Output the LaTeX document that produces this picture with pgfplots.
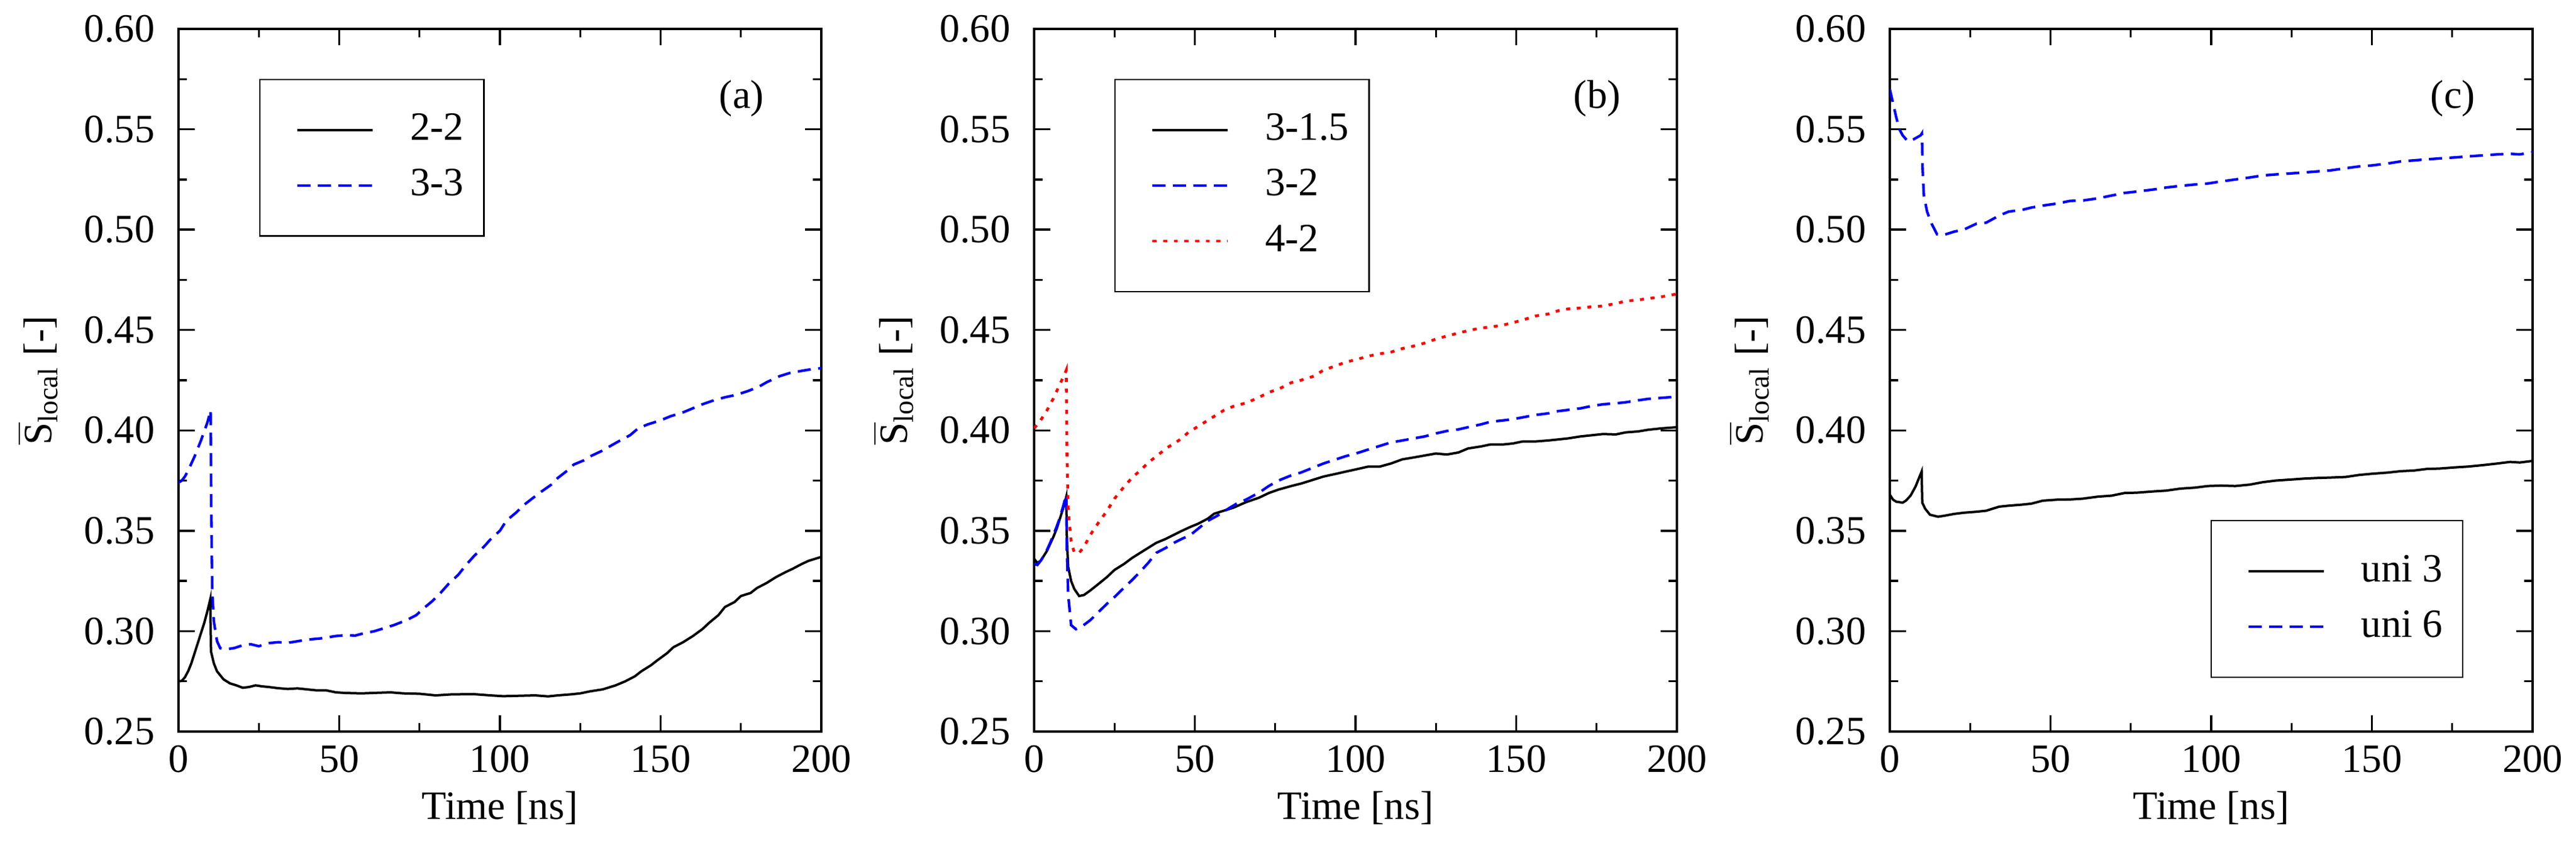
\documentclass[border=0pt]{standalone}
\usepackage{amsmath}
\usepackage{fontspec}
\setmainfont{Liberation Serif}
\usepackage{pgfplots}
\pgfplotsset{compat=1.18}

\pgfplotsset{
  panel/.style={
    scale only axis, width=159.9pt, height=174.9pt,
    anchor=south west,
    xmin=0, xmax=200, ymin=0.25, ymax=0.60,
    xtick={0,50,100,150,200}, minor x tick num=1,
    ytick={0.25,0.30,0.35,0.40,0.45,0.50,0.55,0.60}, minor y tick num=1,
    tick align=inside,
    major tick length=4pt, minor tick length=2.1pt,
    axis line style={line width=0.5pt},
    every tick/.style={black, line width=0.5pt},
    /pgf/number format/assume math mode=true,
    yticklabel style={xshift=-2.4pt, /pgf/number format/fixed, /pgf/number format/fixed zerofill, /pgf/number format/precision=2},
    font=\fontsize{10}{12}\selectfont,
    xlabel={Time [ns]},
    xlabel style={at={(axis description cs:0.5,-0.1244)}, anchor=base},
    ylabel={$\overline{\text{S}}_{\text{local}}$ [-]},
    ylabel style={at={(axis description cs:-0.2195,0.5)}, anchor=center},
    legend cell align=left,
    legend image code/.code={\path (-4pt,0pt); \draw[##1] (0pt,0pt) -- (18.7pt,0pt);},
    legend style={draw=black, line width=0.35pt, inner xsep=5pt, inner ysep=8.5pt,
      nodes={inner sep=0pt}, row sep=5.7pt, column sep=9pt,
      font=\fontsize{10}{12}\selectfont},
  },
  sblack/.style={black, line width=0.6pt},
  sblue/.style={blue, line width=0.65pt, dash pattern=on 3.25pt off 1.85pt},
  sred/.style={red, line width=0.7pt, dash pattern=on 1pt off 1.65pt},
}

\begin{document}
\begin{tikzpicture}[font=\fontsize{10}{12}\selectfont]

% (a)
\begin{axis}[panel, at={(44.4pt,27.6pt)},
  legend style={at={(0.1257,0.929)}, anchor=north west}]
\addplot[sblack] coordinates {
(0,0.275)(1,0.2752)(2,0.277)(3,0.280)(4,0.284)(5,0.289)(6,0.294)(7,0.299)(8,0.304)(9,0.310)(9.9,0.316)(10.1,0.290)(11,0.284)(12,0.280)(13,0.278)(14,0.276)(16,0.274)(18,0.273)(20,0.2718)(22,0.2722)(24,0.273)(26,0.2725)(28,0.2722)(31,0.2716)(34,0.2712)(37,0.2715)(40,0.271)(43,0.2705)(46,0.2705)(49,0.2695)(52,0.2692)(57,0.269)(62,0.2693)(66,0.2695)(70,0.269)(75,0.2688)(80,0.268)(85,0.2685)(92,0.2686)(97,0.268)(101,0.2676)(106,0.2678)(111,0.268)(115,0.2675)(118,0.268)(122,0.2685)(125,0.269)(128,0.270)(132,0.271)(136,0.273)(139,0.275)(142,0.2775)(144,0.280)(147,0.283)(149,0.2855)(152,0.289)(154,0.292)(157,0.2945)(160,0.2975)(163,0.301)(165,0.304)(168,0.308)(170,0.312)(173,0.3145)(175,0.3175)(178,0.319)(180,0.3215)(183,0.324)(186,0.327)(189,0.3295)(191,0.331)(194,0.3335)(196,0.335)(198,0.336)(200,0.337)
};
\addlegendentry{2-2}
\addplot[sblue] coordinates {
(0,0.374)(1,0.375)(2,0.377)(3,0.380)(4,0.3835)(5,0.387)(6,0.391)(7,0.395)(8,0.3995)(9,0.404)(10,0.410)(10.2,0.36)(10.5,0.32)(11,0.305)(12,0.295)(13,0.2915)(15,0.291)(17.4,0.2916)(20,0.293)(22.5,0.2935)(25,0.2925)(27.8,0.294)(31,0.2945)(34,0.2942)(36.4,0.2948)(39,0.2955)(41.6,0.296)(45,0.2965)(48.6,0.2975)(52,0.298)(55,0.2978)(57.3,0.2988)(61,0.300)(64,0.3015)(67,0.303)(71,0.3055)(74,0.308)(76,0.311)(79,0.315)(81.5,0.319)(84,0.3235)(87,0.328)(89.5,0.333)(92,0.3375)(95,0.342)(97,0.3456)(100,0.350)(102,0.355)(105,0.359)(107.6,0.363)(110,0.366)(113,0.3696)(116,0.373)(118,0.3763)(121,0.380)(123,0.383)(126,0.385)(128,0.387)(132,0.390)(135,0.3928)(138,0.3955)(140.5,0.3976)(143,0.401)(146,0.403)(150,0.405)(153,0.407)(157,0.409)(160,0.411)(163,0.413)(166.6,0.415)(170,0.4165)(173.5,0.4177)(177,0.4195)(180.4,0.4216)(183,0.424)(187,0.427)(190,0.4285)(194,0.4297)(197,0.4305)(200,0.431)
};
\addlegendentry{3-3}
\node at (rel axis cs:0.876,0.901) {(a)};
\end{axis}

% (b)
\begin{axis}[panel, at={(257.25pt,27.6pt)},
  legend style={at={(0.1247,0.929)}, anchor=north west}]
\addplot[sblack] coordinates {
(0,0.336)(1,0.334)(2,0.335)(3,0.3375)(4,0.340)(5,0.3435)(6,0.347)(7,0.351)(8,0.356)(9,0.361)(10,0.367)(10.2,0.345)(10.6,0.332)(11.5,0.325)(12.5,0.321)(14,0.3175)(15.5,0.318)(17.5,0.3203)(20,0.3235)(22.7,0.327)(25,0.3305)(28,0.3335)(30.5,0.3365)(33,0.339)(35.5,0.3415)(38,0.344)(41,0.346)(43.5,0.348)(46,0.350)(48.7,0.352)(51,0.3535)(54,0.356)(56,0.3585)(59,0.360)(62,0.3615)(66,0.3643)(70,0.3665)(73,0.3688)(76,0.3705)(80,0.3723)(83,0.3735)(87,0.3755)(90,0.377)(94,0.3784)(97,0.3795)(100.7,0.3808)(104,0.382)(107.6,0.382)(111,0.3835)(114.6,0.3856)(118,0.3865)(121.5,0.3875)(125,0.3885)(128.4,0.388)(132,0.389)(135,0.391)(139,0.392)(142,0.393)(146,0.393)(149,0.3935)(152,0.3945)(156,0.3945)(160,0.395)(163,0.3955)(166,0.396)(170,0.397)(173,0.3975)(177,0.3982)(181,0.398)(184,0.399)(188,0.3995)(191,0.4003)(195,0.401)(200,0.4016)
};
\addlegendentry{3-1.5}
\addplot[sblue] coordinates {
(0,0.3335)(1,0.333)(2,0.335)(3,0.3375)(4,0.3405)(5,0.344)(6,0.348)(7,0.352)(8,0.3565)(9,0.362)(10,0.368)(10.2,0.34)(10.6,0.318)(11.5,0.303)(13,0.301)(15,0.3025)(17.5,0.3055)(20,0.3095)(22.7,0.3137)(25,0.317)(28,0.3217)(30.5,0.3255)(33,0.3296)(35.5,0.334)(38,0.339)(41,0.3415)(43.5,0.344)(46,0.346)(48.7,0.348)(51,0.351)(54,0.3549)(57,0.3575)(61,0.3616)(63,0.3635)(66,0.3656)(70,0.369)(73,0.3723)(76,0.375)(80,0.3776)(83,0.379)(87,0.3816)(90,0.3835)(94,0.3856)(97,0.3872)(100.7,0.3888)(104,0.3905)(107.6,0.3923)(111,0.394)(114.6,0.395)(118,0.396)(121.5,0.397)(125,0.3985)(128.4,0.3997)(132,0.4005)(135,0.4016)(139,0.403)(142,0.4043)(146,0.405)(149,0.4056)(152,0.4065)(156,0.4077)(160,0.4085)(163,0.4096)(166,0.4102)(170,0.411)(173,0.412)(177,0.413)(181,0.4135)(184,0.414)(188,0.415)(191,0.4157)(195,0.4162)(200,0.4168)
};
\addlegendentry{3-2}
\addplot[sred] coordinates {
(0,0.401)(2,0.405)(4,0.410)(6,0.416)(8,0.423)(9.5,0.428)(10,0.430)(10.2,0.39)(10.6,0.36)(11.5,0.345)(12.5,0.339)(14,0.339)(15.5,0.342)(17.5,0.348)(20,0.354)(22.7,0.360)(25,0.366)(28,0.372)(30.5,0.3765)(33,0.380)(35.5,0.384)(38,0.387)(41,0.391)(45,0.395)(48,0.399)(52,0.403)(55,0.406)(59,0.410)(62,0.412)(66,0.4137)(70,0.4165)(73,0.419)(76,0.4205)(80,0.4238)(83,0.425)(87,0.427)(90,0.430)(94,0.4323)(97,0.434)(100.7,0.4355)(104,0.437)(107.6,0.4382)(111,0.439)(114.6,0.4408)(118,0.442)(121.5,0.4435)(125,0.4455)(128.4,0.447)(132,0.4485)(135,0.4497)(139,0.451)(142,0.4515)(146,0.4525)(149,0.4537)(152,0.455)(156,0.457)(160,0.458)(163,0.4596)(166,0.4605)(170,0.461)(173,0.4615)(177,0.462)(181,0.4632)(184,0.4644)(188,0.465)(191,0.4657)(195,0.4665)(200,0.468)
};
\addlegendentry{4-2}
\node at (rel axis cs:0.876,0.901) {(b)};
\end{axis}

% (c)
\begin{axis}[panel, at={(470.1pt,27.6pt)},
  legend style={at={(0.4986,0.0763)}, anchor=south west}]
\addplot[sblack] coordinates {
(0,0.368)(1,0.3655)(2,0.3645)(4,0.364)(5,0.365)(6.5,0.3676)(8,0.372)(9.9,0.3795)(10.1,0.364)(11,0.361)(12.5,0.358)(15,0.357)(17,0.3575)(20,0.3584)(23,0.359)(27,0.3595)(30,0.360)(34,0.362)(37,0.3625)(41,0.363)(44,0.3635)(47.6,0.365)(52,0.3655)(56,0.3656)(60,0.366)(64.7,0.367)(69,0.3675)(73,0.3688)(77,0.369)(82,0.3696)(86,0.370)(90.4,0.371)(95,0.3715)(99,0.3723)(103,0.3725)(107.5,0.3723)(112,0.373)(116,0.3742)(120,0.375)(124.6,0.3755)(129,0.376)(133,0.3763)(137,0.3765)(141.8,0.3768)(146,0.3778)(150,0.3784)(155,0.379)(159,0.3797)(163,0.380)(167,0.3808)(171,0.381)(176,0.3816)(180,0.382)(184.5,0.3827)(189,0.3835)(193,0.3843)(196,0.384)(200,0.3848)
};
\addlegendentry{uni 3}
\addplot[sblue] coordinates {
(0,0.570)(1,0.563)(2,0.556)(3,0.550)(4,0.547)(5.6,0.544)(7.4,0.545)(8.5,0.546)(9.6,0.547)(10,0.548)(10.2,0.53)(10.6,0.517)(11.6,0.509)(13,0.503)(14.7,0.4977)(17,0.4975)(20,0.499)(23,0.500)(27,0.503)(30,0.5035)(34,0.507)(37,0.509)(41,0.5098)(44,0.511)(47.6,0.512)(52,0.513)(56,0.5143)(60,0.5145)(64.7,0.5156)(69,0.517)(73,0.5183)(77,0.519)(82,0.520)(86,0.521)(90.4,0.5218)(95,0.5225)(99,0.523)(103,0.524)(107.5,0.525)(112,0.526)(116,0.527)(120,0.5275)(124.6,0.528)(129,0.5285)(133,0.529)(137,0.5295)(141.8,0.5306)(146,0.5315)(150,0.532)(155,0.533)(159,0.534)(163,0.5345)(167,0.535)(171,0.5355)(176,0.536)(180,0.5365)(184.5,0.537)(189,0.5375)(193,0.5378)(196,0.5375)(200,0.5386)
};
\addlegendentry{uni 6}
\node at (rel axis cs:0.876,0.901) {(c)};
\end{axis}

\pgfresetboundingbox
\useasboundingbox (0,0) rectangle (640.8pt,209.7pt);
\end{tikzpicture}
\end{document}
